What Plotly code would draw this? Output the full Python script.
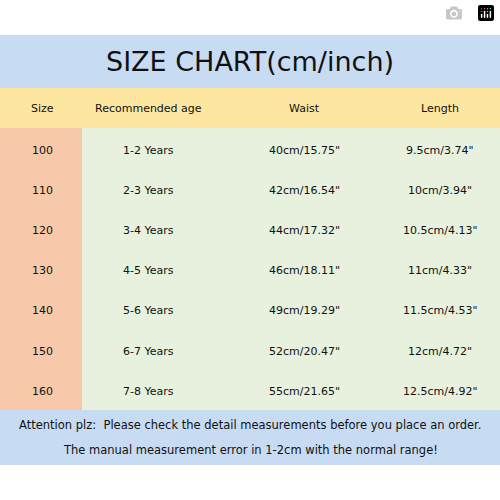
import plotly.graph_objects as go

sizes = ["100", "110", "120", "130", "140", "150", "160"]
ages = ["1-2 Years", "2-3 Years", "3-4 Years", "4-5 Years", "5-6 Years", "6-7 Years", "7-8 Years"]
waist = ['40cm/15.75"', '42cm/16.54"', '44cm/17.32"', '46cm/18.11"', '49cm/19.29"', '52cm/20.47"', '55cm/21.65"']
length = ['9.5cm/3.74"', '10cm/3.94"', '10.5cm/4.13"', '11cm/4.33"', '11.5cm/4.53"', '12cm/4.72"', '12.5cm/4.92"']
headers = ["Size", "Recommended age", "Waist", "Length"]

col_x = [42, 148, 304, 440]
row_y0, row_h = 150, 40.2
FONT = "Comic Sans MS, DejaVu Sans, sans-serif"

fig = go.Figure()
shapes = [
    dict(type="rect", x0=0, x1=500, y0=35, y1=88, fillcolor="#c7dcf2", line_width=0, layer="below"),
    dict(type="rect", x0=0, x1=500, y0=88, y1=128, fillcolor="#fde6a0", line_width=0, layer="below"),
    dict(type="rect", x0=0, x1=82, y0=128, y1=410, fillcolor="#f8c8aa", line_width=0, layer="below"),
    dict(type="rect", x0=82, x1=500, y0=128, y1=410, fillcolor="#e7f1dd", line_width=0, layer="below"),
    dict(type="rect", x0=0, x1=500, y0=410, y1=465, fillcolor="#c7dcf2", line_width=0, layer="below"),
]
ann = [dict(x=250, y=61, text="SIZE CHART(cm/inch)", showarrow=False,
            font=dict(size=27, family=FONT, color="#111"))]
for x, h in zip(col_x, headers):
    ann.append(dict(x=x, y=108, text=h, showarrow=False, font=dict(size=11, family=FONT, color="#111")))
for i, row in enumerate(zip(sizes, ages, waist, length)):
    y = row_y0 + i * row_h
    for x, t in zip(col_x, row):
        ann.append(dict(x=x, y=y, text=t, showarrow=False, font=dict(size=11, family=FONT, color="#111")))
ann.append(dict(x=250, y=425, text="Attention plz:  Please check the detail measurements before you place an order.",
                showarrow=False, font=dict(size=11.5, family=FONT, color="#111")))
ann.append(dict(x=250, y=450, text="The manual measurement error in 1-2cm with the normal range!",
                showarrow=False, font=dict(size=11.5, family=FONT, color="#111")))

fig.update_layout(
    width=500, height=500, margin=dict(l=0, r=0, t=0, b=0),
    paper_bgcolor="white", plot_bgcolor="white",
    xaxis=dict(range=[0, 500], visible=False, fixedrange=True),
    yaxis=dict(range=[500, 0], visible=False, fixedrange=True),
    shapes=shapes, annotations=ann, showlegend=False,
)
fig.write_html("out.html", post_script="document.body.style.margin='0';")
